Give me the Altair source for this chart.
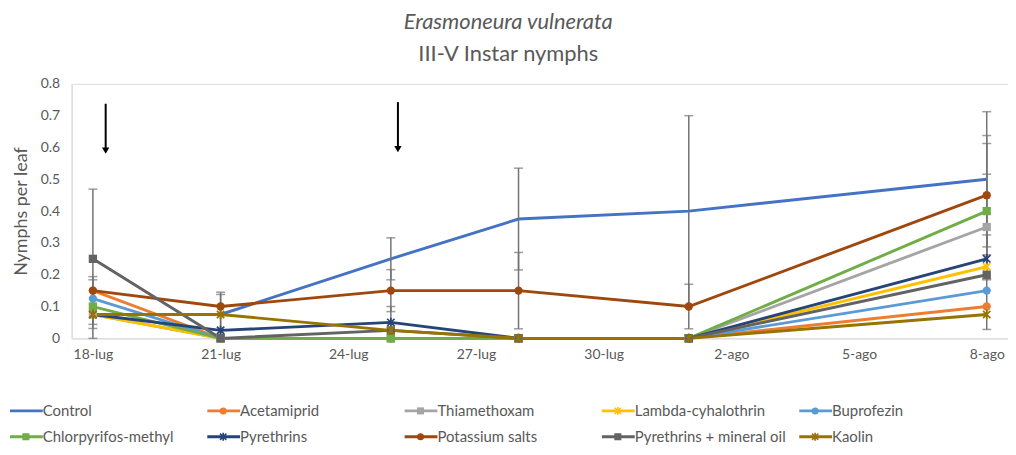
import altair as alt
import pandas as pd

# ---------------- data ----------------
series = ["Control", "Acetamiprid", "Thiamethoxam", "Lambda-cyhalothrin", "Buprofezin",
          "Chlorpyrifos-methyl", "Pyrethrins", "Potassium salts", "Pyrethrins + mineral oil", "Kaolin"]
colors = ["#4472C4", "#ED7D31", "#A5A5A5", "#FFC000", "#5B9BD5",
          "#70AD47", "#264478", "#9E480E", "#636363", "#997300"]
markers = ["none", "circle", "square", "star", "circle", "square", "star", "circle", "square", "star"]

sample_dates = ["2019-07-18", "2019-07-21", "2019-07-25", "2019-07-28", "2019-08-01", "2019-08-08"]
control      = [0.075, 0.075, 0.25, 0.375, 0.40, 0.50]
acetamiprid  = [0.15, 0.0, 0.0, 0.0, 0.0, 0.10]
thiamethoxam = [0.075, 0.0, 0.0, 0.0, 0.0, 0.35]
lambda_cyh   = [0.075, 0.0, 0.0, 0.0, 0.0, 0.225]
buprofezin   = [0.125, 0.0, 0.0, 0.0, 0.0, 0.15]
chlorpyrifos = [0.10, 0.0, 0.0, 0.0, 0.0, 0.40]
pyrethrins   = [0.075, 0.025, 0.05, 0.0, 0.0, 0.25]
potassium    = [0.15, 0.10, 0.15, 0.15, 0.10, 0.45]
pyr_oil      = [0.25, 0.0, 0.025, 0.0, 0.0, 0.20]
kaolin       = [0.075, 0.075, 0.025, 0.0, 0.0, 0.075]
all_values = [control, acetamiprid, thiamethoxam, lambda_cyh, buprofezin,
              chlorpyrifos, pyrethrins, potassium, pyr_oil, kaolin]

err_dates = ["2019-07-18", "2019-07-18", "2019-07-18",
             "2019-07-21", "2019-07-21",
             "2019-07-25", "2019-07-25", "2019-07-25",
             "2019-07-28", "2019-07-28",
             "2019-08-01", "2019-08-01",
             "2019-08-08", "2019-08-08", "2019-08-08", "2019-08-08", "2019-08-08"]
err_low  = [0.031, 0.044, 0.0, 0.0, 0.01, 0.184, 0.084, 0.0, 0.215, 0.03, 0.10, 0.03,
            0.2875, 0.2625, 0.1875, 0.184, 0.028]
err_high = [0.469, 0.194, 0.184, 0.145, 0.138, 0.316, 0.216, 0.10, 0.535, 0.27, 0.70, 0.17,
            0.7125, 0.6375, 0.6125, 0.516, 0.325]

arrow_times = ["2019-07-18 07:12", "2019-07-25 04:00"]
arrow_top = [0.7375, 0.7425]
arrow_tip = [0.59, 0.595]

tick_dates = ["2019-07-18", "2019-07-21", "2019-07-24", "2019-07-27",
              "2019-07-30", "2019-08-02", "2019-08-05", "2019-08-08"]
tick_labels = ["18-lug", "21-lug", "24-lug", "27-lug", "30-lug", "2-ago", "5-ago", "8-ago"]
y_ticks = [0, 0.1, 0.2, 0.3, 0.4, 0.5, 0.6, 0.7, 0.8]

# ---------------- tables ----------------
start = pd.Timestamp(sample_dates[0])
def day(d):
    return (pd.Timestamp(d) - start).total_seconds() / 86400.0

rows = []
for s, vals in zip(series, all_values):
    for d, v in zip(sample_dates, vals):
        rows.append({"series": s, "day": day(d), "value": v})
df = pd.DataFrame(rows)

err_df = pd.DataFrame({"day": [day(d) for d in err_dates], "low": err_low, "high": err_high})
arr_df = pd.DataFrame({"day": [day(d) for d in arrow_times], "top": arrow_top, "tip": arrow_tip})
tick_days = [day(d) for d in tick_dates]

leg_df = pd.DataFrame({"series": series, "marker": markers,
                       "col": [i % 5 for i in range(len(series))],
                       "row": [i // 5 for i in range(len(series))]})

# ---------------- scales / axes ----------------
FONT = "Lato"
TXT = "#595959"
label_expr = "[" + ",".join("'%s'" % t for t in tick_labels) + "][round(datum.value / 3)]"

xscale = alt.Scale(domain=[-0.5, 21.5], nice=False, zero=False)
yscale = alt.Scale(domain=[0, 0.8], nice=False)
xaxis = alt.Axis(values=tick_days, labelExpr=label_expr, title=None, ticks=False, grid=False,
                 domainColor="#D9D9D9", domainWidth=1, labelColor=TXT, labelFont=FONT,
                 labelFontSize=14, labelPadding=9)
yaxis = alt.Axis(values=y_ticks, format=".1~f", title="Nymphs per leaf", ticks=False, grid=False,
                 domainColor="#D9D9D9", domainWidth=1, labelColor=TXT, labelFont=FONT,
                 labelFontSize=14, labelPadding=12, titleFont=FONT, titleFontSize=18,
                 titleFontWeight="normal", titleColor=TXT, titlePadding=10)

X = alt.X("day:Q", scale=xscale, axis=xaxis)
Y = alt.Y("value:Q", scale=yscale, axis=yaxis)

star_path = "M-1,-1L1,1M-1,1L1,-1M0,-1.25L0,1.25"

layers = []
point_layers = []
for s, c, m in zip(series, colors, markers):
    base = alt.Chart(df[df.series == s]).encode(x=X, y=Y)
    layers.append(base.mark_line(color=c, strokeWidth=2.9))
    if m == "circle":
        point_layers.append(base.mark_point(shape="circle", filled=True, color=c, size=70, opacity=1))
    elif m == "square":
        point_layers.append(base.mark_point(shape="square", filled=True, color=c, size=70, opacity=1))
    elif m == "star":
        point_layers.append(base.mark_point(shape=star_path, filled=False, color=c, size=55,
                                            strokeWidth=1.7, opacity=1))

err_base = alt.Chart(err_df)
err_rule = err_base.mark_rule(color="#737373", strokeWidth=1.5).encode(
    x=X, y=alt.Y("low:Q", scale=yscale, axis=yaxis), y2="high:Q")
cap_lo = err_base.mark_tick(color="#737373", orient="horizontal", size=9, thickness=1.5).encode(
    x=X, y=alt.Y("low:Q", scale=yscale, axis=yaxis))
cap_hi = err_base.mark_tick(color="#737373", orient="horizontal", size=9, thickness=1.5).encode(
    x=X, y=alt.Y("high:Q", scale=yscale, axis=yaxis))

arr_base = alt.Chart(arr_df)
arr_rule = arr_base.mark_rule(color="black", strokeWidth=2).encode(
    x=X, y=alt.Y("top:Q", scale=yscale, axis=yaxis), y2="tip:Q")
arr_head = arr_base.mark_point(shape="triangle-down", filled=True, color="black", size=55, opacity=1).encode(
    x=X, y=alt.Y("tip:Q", scale=yscale, axis=yaxis))

main = alt.layer(*layers, err_rule, cap_lo, cap_hi, *point_layers, arr_rule, arr_head)

# ---------------- legend (own scales) ----------------
LX = alt.X("col:Q", scale=alt.Scale(domain=[0, 4], range=[-62, 732]), axis=None)
LY = alt.Y("row:Q", scale=alt.Scale(domain=[0, 1], range=[329, 355]), axis=None)
LC = alt.Color("series:N", scale=alt.Scale(domain=series, range=colors), legend=None)
leg = alt.Chart(leg_df)
leg_line = leg.mark_rule(strokeWidth=2.9, x2Offset=33).encode(x=LX, x2="col:Q", y=LY, color=LC)
leg_circ = leg.transform_filter(alt.datum.marker == "circle").mark_point(
    shape="circle", filled=True, size=50, opacity=1, xOffset=16).encode(x=LX, y=LY, color=LC)
leg_sq = leg.transform_filter(alt.datum.marker == "square").mark_point(
    shape="square", filled=True, size=50, opacity=1, xOffset=16).encode(x=LX, y=LY, color=LC)
leg_star = leg.transform_filter(alt.datum.marker == "star").mark_point(
    shape=star_path, filled=False, size=40, strokeWidth=1.6, opacity=1, xOffset=16).encode(x=LX, y=LY, color=LC)
leg_text = leg.mark_text(align="left", baseline="middle", dx=33, font=FONT, fontSize=15,
                         color=TXT).encode(x=LX, y=LY, text="series:N")
legend = alt.layer(leg_line, leg_circ, leg_sq, leg_star, leg_text)

chart = alt.layer(main, legend).resolve_scale(x="independent", y="independent").properties(
    width=942, height=256,
    padding={"left": 0, "top": 2, "right": 0, "bottom": 2},
    title=alt.TitleParams(text="Erasmoneura vulnerata", subtitle="III-V Instar nymphs",
                          font=FONT, fontSize=22, fontStyle="italic", fontWeight="normal",
                          color=TXT, subtitleFont=FONT, subtitleFontSize=22,
                          subtitleFontStyle="normal", subtitleColor=TXT, subtitlePadding=10,
                          anchor="middle", frame="bounds", offset=11),
).configure_view(stroke=None).configure(background="white")

chart.save("out.html", embed_options={"renderer": "svg", "actions": False})
